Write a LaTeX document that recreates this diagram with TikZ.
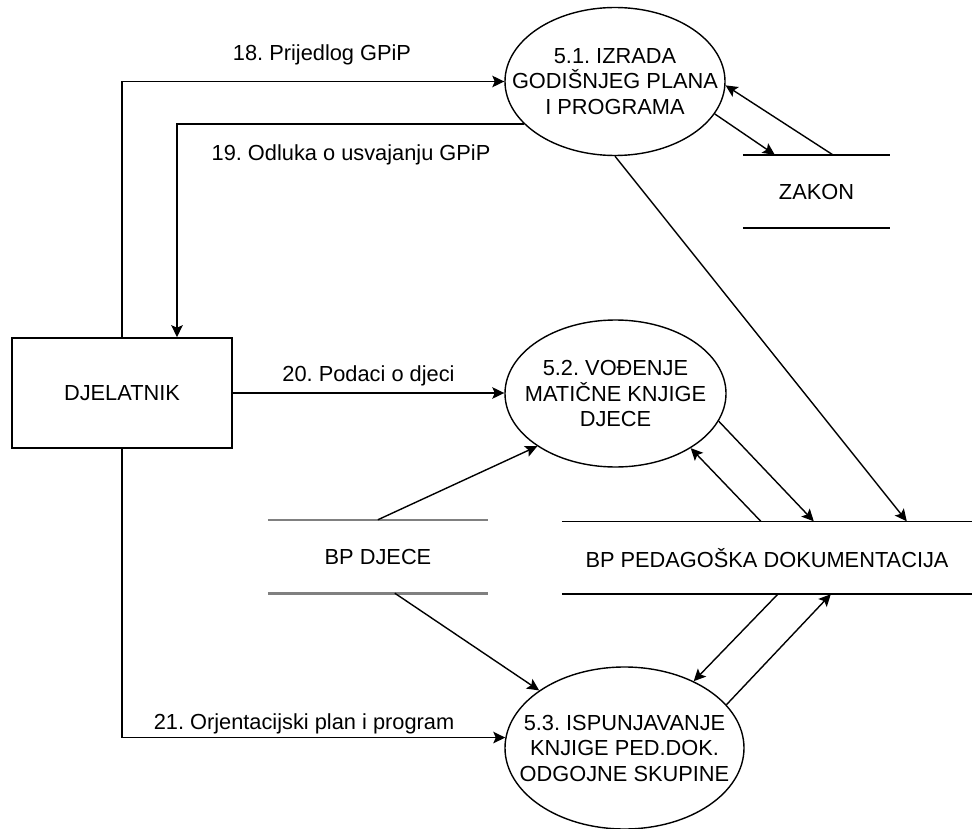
\documentclass[tikz,border=0pt]{standalone}
\usepackage{fontspec}
\setmainfont{Liberation Sans}
\usetikzlibrary{shapes.geometric,arrows.meta}
\frenchspacing
\begin{document}
\begin{tikzpicture}[x=1pt,y=-1pt,
  font=\fontsize{21.8}{25.5}\selectfont\frenchspacing,
  conn/.style={line width=1.4pt,-{Stealth[length=12pt,width=11.5pt,inset=2.5pt]}},
  proc/.style={draw,ellipse,line width=1.4pt,inner sep=0pt},
  ent/.style={draw,rectangle,line width=1.6pt,minimum width=220pt,minimum height=110pt},
  store/.style={inner sep=0pt},
  sline/.style={line width=1.6pt},
  gline/.style={line width=2.6pt,draw=gray},
  lbl/.style={anchor=base,inner sep=0pt},
  ptext/.style={align=center,inner sep=0pt}
  ]
\useasboundingbox (0,0) rectangle (972,829);

% processes
\node[proc,minimum width=220pt,minimum height=148pt] (e1) at (615,81.5) {};
\node[proc,minimum width=221pt,minimum height=147pt] (e2) at (615.5,393.5) {};
\node[proc,minimum width=239pt,minimum height=162pt] (e3) at (624.5,748) {};
\node[ptext] (t1) at (e1) {5.1. IZRADA\\GODIŠNJEG PLANA\\I PROGRAMA};
\node[ptext] (t2) at (e2) {5.2. VOĐENJE\\MATIČNE KNJIGE\\DJECE};
\node[ptext] (t3) at (e3) {5.3. ISPUNJAVANJE\\KNJIGE PED.DOK.\\ODGOJNE SKUPINE};

% entity
\node[ent] (box) at (122,393) {DJELATNIK};

% stores
\node[store,minimum width=147pt,minimum height=73pt] (zak) at (816.5,191.5) {ZAKON};
\node[store,minimum width=220pt,minimum height=73pt] (bpd) at (378,556.5) {BP DJECE};
\node[store,minimum width=410pt,minimum height=72.5pt] (ped) at (767,557.75) {BP PEDAGOŠKA DOKUMENTACIJA};
\draw[sline] (zak.north west) -- (zak.north east) (zak.south west) -- (zak.south east);
\draw[gline] (bpd.north west) -- (bpd.north east) (bpd.south west) -- (bpd.south east);
\draw[sline] (ped.north west) -- (ped.north east) (ped.south west) -- (ped.south east);

% connectors
\draw[conn] (box.north) |- (e1.west);
\draw[conn] (e1.205.3) -| ([xshift=55pt]box.north);
\draw[conn] (box.east) -- (box.east -| e2.west);
\draw[conn] (box.south) |- (e3.175.7);
\draw[conn] (e1.-18) -- ([xshift=32pt]zak.north west);
\draw[conn] ([xshift=90pt]zak.north west) -- (e1.-2);
\draw[conn] (e1.south) -- ([xshift=345pt]ped.north west);
\draw[conn] (e2.-15.8) -- ([xshift=252pt]ped.north west);
\draw[conn] ([xshift=199pt]ped.north west) -- (e2.-36.4);
\draw[conn] ([xshift=110pt]bpd.north west) -- (e2.214.1);
\draw[conn] ([xshift=127pt]bpd.south west) -- (e3.146.2);
\draw[conn] ([xshift=216pt]ped.south west) -- (e3.44.8);
\draw[conn] (e3.23.7) -- ([xshift=269pt]ped.south west);

% labels
\node[lbl] (l18) at (322,60.5) {18. Prijedlog GPiP};
\node[lbl] (l19) at (351,161) {19. Odluka o usvajanju GPiP};
\node[lbl] (l20) at (368.5,381.5) {20. Podaci o djeci};
\node[lbl] (l21) at (304,729) {21. Orjentacijski plan i program};
\end{tikzpicture}
\end{document}
